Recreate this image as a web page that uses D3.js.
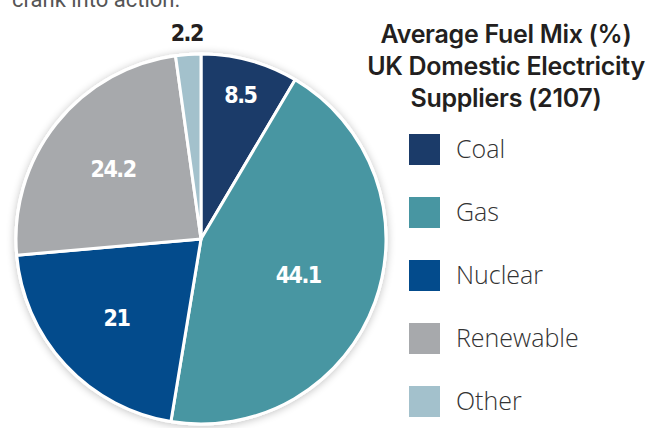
<!DOCTYPE html>
<html>
<head>
<meta charset="utf-8">
<script src="https://cdn.jsdelivr.net/npm/d3@7"></script>
<style>
  html, body { margin: 0; padding: 0; background: #ffffff; }
  svg { display: block; }
</style>
</head>
<body>
<svg id="chart" width="667" height="428"></svg>
<script>
const categories = ["Coal", "Gas", "Nuclear", "Renewable", "Other"];
const values = [8.5, 44.1, 21, 24.2, 2.2];
const colors = ["#1b3b69", "#4896a2", "#034b8c", "#a7a9ac", "#a3c1cc"];
const titleLines = ["Average Fuel Mix (%)", "UK Domestic Electricity", "Suppliers (2107)"];
const introText = "crank into action.";

const svg = d3.select("#chart");
const W = 667, H = 428;
const cx = 201, cy = 239, R = 185;

const defs = svg.append("defs");
const f = defs.append("filter").attr("id", "shadow").attr("x", "-20%").attr("y", "-20%").attr("width", "140%").attr("height", "140%");
f.append("feGaussianBlur").attr("in", "SourceAlpha").attr("stdDeviation", 4).attr("result", "b");
f.append("feOffset").attr("in", "b").attr("dx", 0).attr("dy", 1).attr("result", "o");
f.append("feComponentTransfer").attr("in", "o").attr("result", "s")
  .append("feFuncA").attr("type", "linear").attr("slope", 0.25);
const m = f.append("feMerge");
m.append("feMergeNode").attr("in", "s");
m.append("feMergeNode").attr("in", "SourceGraphic");

// intro text (cut at the top edge, as in the reference)
svg.append("text")
  .attr("x", 12).attr("y", 7)
  .attr("font-family", "Roboto, 'Noto Sans', sans-serif")
  .attr("font-size", 22)
  .attr("fill", "#555555")
  .text(introText);

const data = categories.map((c, i) => ({ name: c, value: values[i], color: colors[i] }));
const total = d3.sum(values);

const pie = d3.pie().value(d => d.value).sort(null);
const arcs = pie(data);
const arc = d3.arc().innerRadius(0).outerRadius(R);

const g = svg.append("g").attr("transform", `translate(${cx},${cy})`);

g.append("circle").attr("r", R + 1.5).attr("fill", "#ffffff").attr("filter", "url(#shadow)");

g.selectAll("path.slice")
  .data(arcs)
  .enter().append("path")
  .attr("class", "slice")
  .attr("d", arc)
  .attr("fill", d => d.data.color)
  .attr("stroke", "#ffffff")
  .attr("stroke-width", 3)
  .attr("stroke-linejoin", "round");

function labelPos(d) {
  const frac = d.data.value / total;
  const a = (d.startAngle + d.endAngle) / 2;
  const r = frac < 0.05 ? R + 22 : R * (0.5 + 0.026 / frac);
  return [Math.sin(a) * r, -Math.cos(a) * r];
}

g.selectAll("text.lbl")
  .data(arcs)
  .enter().append("text")
  .attr("class", "lbl")
  .attr("transform", d => `translate(${labelPos(d)})`)
  .attr("text-anchor", "middle")
  .attr("dy", "0.36em")
  .attr("font-family", "'DejaVu Sans Condensed', 'DejaVu Sans', sans-serif")
  .attr("font-weight", "bold")
  .attr("font-size", 23)
  .attr("letter-spacing", -1.5)
  .attr("fill", d => (d.data.value / total < 0.05) ? "#231f20" : "#ffffff")
  .text(d => d.data.value);

// title
svg.append("text")
  .attr("x", 506).attr("y", 43)
  .attr("text-anchor", "middle")
  .attr("font-family", "Inter, Lato, sans-serif")
  .attr("font-weight", 600)
  .attr("font-size", 25)
  .attr("letter-spacing", -0.3)
  .attr("fill", "#231f20")
  .selectAll("tspan")
  .data(titleLines)
  .enter().append("tspan")
  .attr("x", 506)
  .attr("dy", (d, i) => i === 0 ? 0 : 32)
  .text(d => d);

// legend
const ly = d3.scalePoint().domain(categories).range([149, 401]);
const leg = svg.append("g").selectAll("g")
  .data(data)
  .enter().append("g")
  .attr("transform", d => `translate(409,${ly(d.name)})`);
leg.append("rect")
  .attr("x", 0).attr("y", -15)
  .attr("width", 31).attr("height", 31)
  .attr("fill", d => d.color);
leg.append("text")
  .attr("x", 47).attr("y", 0)
  .attr("dy", "0.36em")
  .attr("font-family", "'Open Sans', Lato, sans-serif")
  .attr("font-weight", 300)
  .attr("font-size", 25)
  .attr("fill", "#333333")
  .text(d => d.name);
</script>
</body>
</html>
